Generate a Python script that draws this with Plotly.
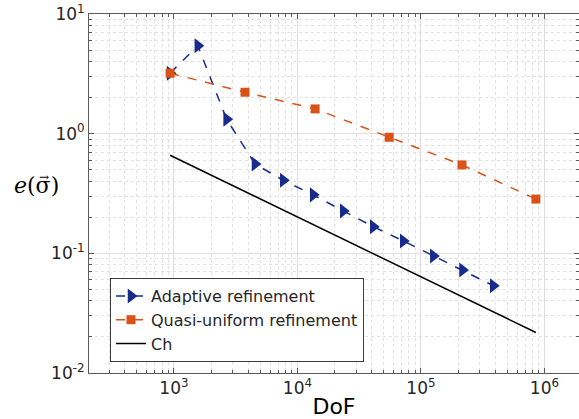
import plotly.graph_objects as go
import numpy as np

# Adaptive refinement
adapt_dof = [930, 1560, 2670, 4530, 7670, 13400, 23500, 41100, 71900, 126000, 217000, 385000]
adapt_err = [3.2, 5.43, 1.32, 0.558, 0.408, 0.308, 0.226, 0.167, 0.127, 0.095, 0.0726, 0.0537]

# Quasi-uniform refinement
unif_dof = [930, 3760, 13900, 55300, 215000, 853000]
unif_err = [3.2, 2.22, 1.61, 0.933, 0.548, 0.284]

# Reference slope Ch
ch_dof = [930, 853000]
ch_err = [0.66, 0.0218]

x_tickvals = [1e3, 1e4, 1e5, 1e6]
x_ticktext = ["10<sup>3</sup>", "10<sup>4</sup>", "10<sup>5</sup>", "10<sup>6</sup>"]
y_tickvals = [1e-2, 1e-1, 1e0, 1e1]
y_ticktext = ["10<sup>-2</sup>", "10<sup>-1</sup>", "10<sup>0</sup>", "10<sup>1</sup>"]

blue = "rgb(24,42,140)"
orange = "rgb(217,83,25)"
axcol = "rgb(38,38,38)"

W, H = 579, 419
ML, MR, MT, MB = 89, 0, 14, 46
pw, ph = W - ML - MR, H - MT - MB

def px_to_paper(xp, yp):
    return (xp - ML) / pw, (H - MB - yp) / ph

fig = go.Figure()
fig.add_trace(go.Scatter(x=adapt_dof, y=adapt_err, mode="lines+markers",
                         name="Adaptive refinement",
                         line=dict(color=blue, width=1.5, dash="dash"),
                         marker=dict(symbol="triangle-right", size=13, color=blue)))
fig.add_trace(go.Scatter(x=unif_dof, y=unif_err, mode="lines+markers",
                         name="Quasi-uniform refinement",
                         line=dict(color=orange, width=1.5, dash="dash"),
                         marker=dict(symbol="square", size=9, color=orange)))
fig.add_trace(go.Scatter(x=ch_dof, y=ch_err, mode="lines", name="Ch",
                         line=dict(color="black", width=1.5)))

common = dict(type="log", showline=True, linecolor="rgb(90,90,90)",
              linewidth=1, mirror="allticks", ticks="inside", ticklen=5, tickcolor="rgb(90,90,90)",
              showgrid=True, gridcolor="rgb(222,222,222)", gridwidth=1,
              tickfont=dict(family="DejaVu Sans", size=17, color=axcol),
              minor=dict(ticks="inside", ticklen=3, tickcolor="rgb(90,90,90)", showgrid=True,
                         gridcolor="rgb(225,225,225)", griddash="dot", gridwidth=1, dtick="D1"),
              zeroline=False, tickmode="array")

fig.update_xaxes(range=[np.log10(205), 6.28], tickvals=x_tickvals, ticktext=x_ticktext,
                 title=dict(text="DoF", font=dict(family="DejaVu Sans", size=22, color="black"), standoff=2),
                 **common)
fig.update_yaxes(range=[-2, 1], tickvals=y_tickvals, ticktext=y_ticktext, **common)

lx, ly = px_to_paper(12, 185)
fig.add_annotation(text="<i>e</i>(σ)", xref="paper", yref="paper",
                   x=lx, y=ly, xanchor="left", yanchor="middle", showarrow=False,
                   font=dict(family="DejaVu Serif", size=22, color="black"))
ax_, ay_ = px_to_paper(44, 177)
fig.add_annotation(text="→", xref="paper", yref="paper",
                   x=ax_, y=ay_, xanchor="center", yanchor="middle", showarrow=False,
                   font=dict(family="DejaVu Serif", size=12, color="black"))

legx, legy = px_to_paper(110, 320)
fig.update_layout(width=W, height=H, margin=dict(l=ML, r=MR, t=MT, b=MB),
                  plot_bgcolor="white", paper_bgcolor="white", showlegend=True,
                  legend=dict(x=legx, y=legy, xanchor="left", yanchor="middle",
                              bgcolor="white", bordercolor="rgb(60,60,60)", borderwidth=1,
                              font=dict(family="DejaVu Sans", size=16, color=axcol),
                              tracegroupgap=0, itemwidth=30))

fig.write_html("out.html")
